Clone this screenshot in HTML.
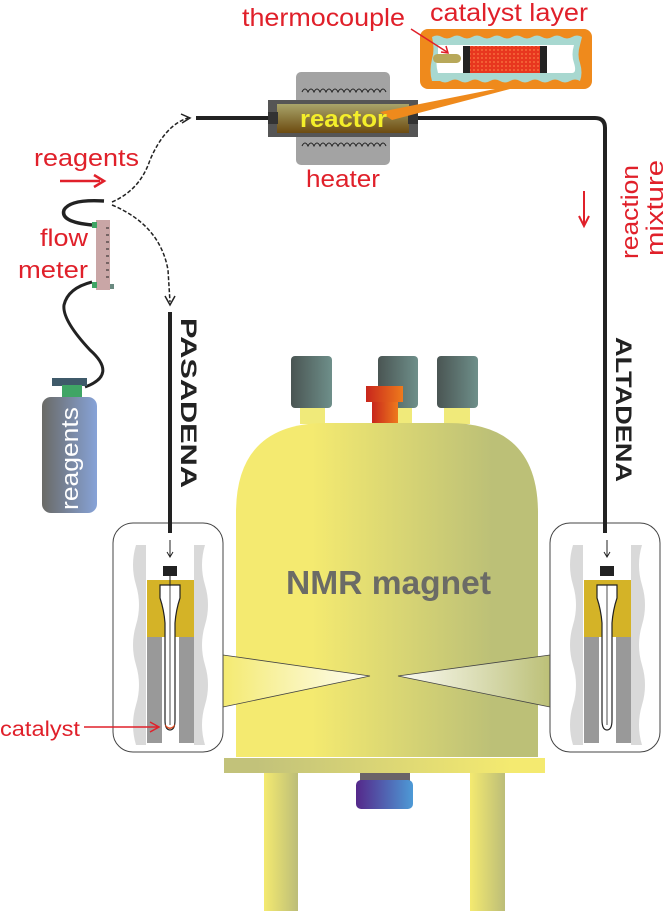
<!DOCTYPE html>
<html><head><meta charset="utf-8"><style>body{margin:0;background:#fff}svg{display:block}</style></head><body>
<svg width="667" height="911" viewBox="0 0 667 911" xmlns="http://www.w3.org/2000/svg" font-family="Liberation Sans, sans-serif">
<defs>
<linearGradient id="mag" x1="0" x2="1" y1="0" y2="0"><stop offset="0.25" stop-color="#f4ea70"/><stop offset="0.85" stop-color="#bcc077"/></linearGradient>
<linearGradient id="base" x1="0" x2="1"><stop offset="0.1" stop-color="#c2c27a"/><stop offset="0.9" stop-color="#f4ea70"/></linearGradient>
<linearGradient id="leg" x1="0" x2="1"><stop offset="0" stop-color="#f4ea70"/><stop offset="1" stop-color="#bcbd78"/></linearGradient>
<linearGradient id="cap" x1="0" x2="1"><stop offset="0" stop-color="#4a5553"/><stop offset="1" stop-color="#6e8f8a"/></linearGradient>
<linearGradient id="red" x1="0" x2="1"><stop offset="0" stop-color="#c8261c"/><stop offset="1" stop-color="#ee7a1c"/></linearGradient>
<linearGradient id="knob" x1="0" x2="1"><stop offset="0" stop-color="#55288a"/><stop offset="1" stop-color="#4d9ad6"/></linearGradient>
<linearGradient id="cyl" x1="0" x2="1"><stop offset="0" stop-color="#6a6a66"/><stop offset="1" stop-color="#87a3d8"/></linearGradient>
<linearGradient id="rx" x1="0" x2="0" y1="0" y2="1"><stop offset="0" stop-color="#a8a46a"/><stop offset="1" stop-color="#6d4b10"/></linearGradient>
<linearGradient id="beamL" x1="0" x2="1"><stop offset="0" stop-color="#f4ea70"/><stop offset="1" stop-color="#fff" stop-opacity="0.9"/></linearGradient>
<linearGradient id="beamR" x1="1" x2="0"><stop offset="0" stop-color="#bcc077"/><stop offset="1" stop-color="#fff" stop-opacity="0.9"/></linearGradient>
<pattern id="cat" width="4" height="4" patternUnits="userSpaceOnUse"><rect width="4" height="4" fill="#e8361f"/><circle cx="2" cy="2" r="1" fill="#f56a3a"/></pattern>
</defs>

<rect x="300" y="400" width="25" height="24" fill="#f0ea7a"/>
<rect x="390" y="400" width="22" height="24" fill="#f0ea7a"/>
<rect x="444" y="400" width="26" height="24" fill="#f0ea7a"/>
<rect x="291" y="356" width="41" height="52" rx="4" fill="url(#cap)"/>
<rect x="378" y="356" width="40" height="52" rx="4" fill="url(#cap)"/>
<rect x="437" y="356" width="41" height="52" rx="4" fill="url(#cap)"/>
<rect x="366" y="386" width="37" height="16" fill="url(#red)"/>
<rect x="372" y="402" width="26" height="22" fill="url(#red)"/>

<path d="M236,757 V513 Q236,423 326,423 H448 Q538,423 538,513 V757 Z" fill="url(#mag)"/>
<rect x="224" y="758" width="321" height="15" fill="url(#base)"/>
<rect x="264" y="773" width="34" height="138" fill="url(#leg)"/>
<rect x="470" y="773" width="35" height="138" fill="url(#leg)"/>
<rect x="360" y="773" width="50" height="9" fill="#6a6468"/>
<rect x="356" y="780" width="57" height="29" rx="5" fill="url(#knob)"/>
<text x="286" y="594" font-size="33" font-weight="bold" fill="#6b6b66" textLength="205" lengthAdjust="spacingAndGlyphs">NMR magnet</text>

<path d="M223,655 L370,676 L223,707 Z" fill="url(#beamL)"/>
<path d="M223,655 L370,676 L223,707" fill="none" stroke="#444" stroke-width="0.8"/>
<path d="M550,655 L398,676 L550,707 Z" fill="url(#beamR)"/>
<path d="M550,655 L398,676 L550,707" fill="none" stroke="#444" stroke-width="0.8"/>

<g>
<rect x="113" y="523" width="110" height="229" rx="20" fill="#fff" stroke="#444" stroke-width="1"/>
<path d="M136,545 q-6,20 0,40 q6,20 0,40 q-6,20 0,40 q6,20 0,40 q-6,20 0,40 V745 H146 V545 Z" fill="#d9d9d9"/>
<path d="M205,545 q-6,20 0,40 q6,20 0,40 q-6,20 0,40 q6,20 0,40 q-6,20 0,40 V745 H194 V545 Z" fill="#d9d9d9"/>
<path d="M147,580 H194 V637 H147 Z" fill="#d4b327"/>
<rect x="147" y="637" width="15" height="106" fill="#999"/>
<rect x="179" y="637" width="15" height="106" fill="#999"/>
<path d="M160,585 V598 q4,12 5,25 V720 q0,10 5,10 q5,0 5,-10 V623 q1,-13 5,-25 V585 Z" fill="#fff" stroke="#222" stroke-width="1.2"/>
<line x1="170" y1="585" x2="170" y2="725" stroke="#222" stroke-width="0.8"/>
<rect x="163" y="566" width="14" height="10" fill="#222"/>
<line x1="170" y1="576" x2="170" y2="586" stroke="#222" stroke-width="1"/>
</g>
<path d="M165,724 q5,7 10,0 q0,4 -5,5 q-5,-1 -5,-5Z" fill="#e24a1f"/>
<line x1="170" y1="312" x2="170" y2="533" stroke="#222" stroke-width="4"/>
<line x1="170" y1="540" x2="170" y2="556" stroke="#222" stroke-width="1"/>
<path d="M167,552 L170,557 L173,552" fill="none" stroke="#222" stroke-width="1"/>

<g transform="translate(437,0)">
<rect x="113" y="523" width="110" height="229" rx="20" fill="#fff" stroke="#444" stroke-width="1"/>
<path d="M136,545 q-6,20 0,40 q6,20 0,40 q-6,20 0,40 q6,20 0,40 q-6,20 0,40 V745 H146 V545 Z" fill="#d9d9d9"/>
<path d="M205,545 q-6,20 0,40 q6,20 0,40 q-6,20 0,40 q6,20 0,40 q-6,20 0,40 V745 H194 V545 Z" fill="#d9d9d9"/>
<path d="M147,580 H194 V637 H147 Z" fill="#d4b327"/>
<rect x="147" y="637" width="15" height="106" fill="#999"/>
<rect x="179" y="637" width="15" height="106" fill="#999"/>
<path d="M160,585 V598 q4,12 5,25 V720 q0,10 5,10 q5,0 5,-10 V623 q1,-13 5,-25 V585 Z" fill="#fff" stroke="#222" stroke-width="1.2"/>
<line x1="170" y1="585" x2="170" y2="725" stroke="#222" stroke-width="0.8"/>
<rect x="163" y="566" width="14" height="10" fill="#222"/>
<line x1="170" y1="540" x2="170" y2="556" stroke="#222" stroke-width="1"/>
<path d="M167,552 L170,557 L173,552" fill="none" stroke="#222" stroke-width="1"/>
</g>

<text x="0" y="736" font-size="21" fill="#e0202a" textLength="80" lengthAdjust="spacingAndGlyphs">catalyst</text>
<line x1="84" y1="727" x2="158" y2="727" stroke="#e0202a" stroke-width="1.5"/>
<path d="M150,722 L159,727 L150,732" fill="none" stroke="#e0202a" stroke-width="1.5"/>

<path d="M196,118 H268 M418,118 H595 Q605,118 605,128 V533" fill="none" stroke="#222" stroke-width="4"/>
<text transform="translate(181,318) rotate(90)" font-size="22" font-weight="bold" fill="#222" textLength="170" lengthAdjust="spacingAndGlyphs">PASADENA</text>
<text transform="translate(616,337) rotate(90)" font-size="22" font-weight="bold" fill="#222" textLength="145" lengthAdjust="spacingAndGlyphs">ALTADENA</text>

<rect x="296" y="72" width="94" height="93" rx="5" fill="#a3a3a3"/>
<path d="M302,92 q3,-6 6,0 q3,-6 6,0 q3,-6 6,0 q3,-6 6,0 q3,-6 6,0 q3,-6 6,0 q3,-6 6,0 q3,-6 6,0 q3,-6 6,0 q3,-6 6,0 q3,-6 6,0 q3,-6 6,0 q3,-6 6,0 q3,-6 6,0" fill="none" stroke="#222" stroke-width="1"/>
<path d="M302,146 q3,-6 6,0 q3,-6 6,0 q3,-6 6,0 q3,-6 6,0 q3,-6 6,0 q3,-6 6,0 q3,-6 6,0 q3,-6 6,0 q3,-6 6,0 q3,-6 6,0 q3,-6 6,0 q3,-6 6,0 q3,-6 6,0 q3,-6 6,0" fill="none" stroke="#222" stroke-width="1"/>
<rect x="268" y="100" width="150" height="37" fill="#555"/>
<rect x="277" y="104" width="132" height="29" fill="url(#rx)"/>
<rect x="268" y="112" width="10" height="12" fill="#333"/>
<rect x="408" y="112" width="10" height="12" fill="#333"/>
<path d="M380,112 L500,88 L510,89 L392,120 Z" fill="#ef8a1c"/>
<text x="300" y="127" font-size="24" font-weight="bold" fill="#f4ee2a" textLength="87" lengthAdjust="spacingAndGlyphs">reactor</text>
<text x="306" y="187" font-size="24" fill="#e0202a" textLength="74" lengthAdjust="spacingAndGlyphs">heater</text>

<rect x="420" y="29" width="172" height="60" rx="8" fill="#ef8a1c"/>
<path d="M432,37 q5,-3 10,0 q5,3 10,0 q5,-3 10,0 q5,3 10,0 q5,-3 10,0 q5,3 10,0 q5,-3 10,0 q5,3 10,0 q5,-3 10,0 q5,3 10,0 q5,-3 10,0 q5,3 10,0 q5,-3 10,0 q5,3 10,0 q5,-3 10,0 L580,45 q-3,10 0,18 q3,10 0,18 q-5,-3 -10,0 q-5,3 -10,0 q-5,-3 -10,0 q-5,3 -10,0 q-5,-3 -10,0 q-5,3 -10,0 q-5,-3 -10,0 q-5,3 -10,0 q-5,-3 -10,0 q-5,3 -10,0 q-5,-3 -10,0 q-5,3 -10,0 q-5,-3 -10,0 q-5,3 -10,0 L432,81 q-3,-10 0,-22 q3,-10 0,-22Z" fill="#a8d8d0"/>
<path d="M438,45 H574 q-3,10 0,18 q3,10 -2,10 H438 q-3,-10 0,-18Z" fill="#fff"/>
<rect x="463" y="46" width="84" height="27" fill="#222"/>
<rect x="470" y="46" width="70" height="27" fill="url(#cat)"/>
<rect x="433" y="54" width="28" height="9" rx="4.5" fill="#b8a85a"/>
<text x="242" y="26" font-size="25" fill="#e0202a" textLength="163" lengthAdjust="spacingAndGlyphs">thermocouple</text>
<text x="430" y="21" font-size="25" fill="#e0202a" textLength="158" lengthAdjust="spacingAndGlyphs">catalyst layer</text>
<path d="M411,29 L447,52" stroke="#e0202a" stroke-width="1.5"/>
<path d="M441,52 L448,53 L446,46" fill="none" stroke="#e0202a" stroke-width="1.5"/>

<line x1="584" y1="191" x2="584" y2="224" stroke="#e0202a" stroke-width="2"/>
<path d="M579,216 L584,226 L589,216" fill="none" stroke="#e0202a" stroke-width="2"/>
<text transform="translate(638,259) rotate(-90)" font-size="24" fill="#e0202a" textLength="94" lengthAdjust="spacingAndGlyphs">reaction</text>
<text transform="translate(663,256) rotate(-90)" font-size="24" fill="#e0202a" textLength="96" lengthAdjust="spacingAndGlyphs">mixture</text>

<text x="34" y="166" font-size="24" fill="#e0202a" textLength="105" lengthAdjust="spacingAndGlyphs">reagents</text>
<line x1="60" y1="181" x2="100" y2="181" stroke="#e0202a" stroke-width="2.5"/>
<path d="M94,175 L104,181 L94,187" fill="none" stroke="#e0202a" stroke-width="2.5"/>
<path d="M104,201 Q70,199 64,210 Q60,222 92,225" fill="none" stroke="#222" stroke-width="3.5"/>
<path d="M92,282 Q68,288 64,305 Q62,320 90,350 Q118,375 85,387" fill="none" stroke="#222" stroke-width="3"/>
<rect x="96" y="220" width="14" height="70" fill="#c9a6a6"/>
<rect x="92" y="222" width="5" height="6" fill="#3fa565"/>
<rect x="92" y="282" width="5" height="6" fill="#3fa565"/>
<rect x="110" y="284" width="4" height="5" fill="#6a8a80"/>
<path d="M106,228 h3 M106,235 h3 M106,242 h3 M106,249 h3 M106,256 h3 M106,263 h3 M106,270 h3 M106,277 h3" stroke="#222" stroke-width="1"/>
<text x="40" y="246" font-size="24" fill="#e0202a" textLength="48" lengthAdjust="spacingAndGlyphs">flow</text>
<text x="18" y="278" font-size="24" fill="#e0202a" textLength="70" lengthAdjust="spacingAndGlyphs">meter</text>

<path d="M112,202 Q140,190 150,160 Q165,125 188,118" fill="none" stroke="#222" stroke-width="1.5" stroke-dasharray="4,2"/>
<path d="M181,114 L190,118 L182,123" fill="none" stroke="#222" stroke-width="1.5"/>
<path d="M112,205 Q160,225 168,270 L170,302" fill="none" stroke="#222" stroke-width="1.5" stroke-dasharray="4,2"/>
<path d="M165,296 L170,305 L175,296" fill="none" stroke="#222" stroke-width="1.5"/>

<rect x="52" y="378" width="35" height="8" fill="#3f5a6a"/>
<rect x="62" y="385" width="20" height="12" fill="#3fa565"/>
<rect x="42" y="397" width="55" height="116" rx="9" fill="url(#cyl)"/>
<text transform="translate(78,510) rotate(-90)" font-size="24" fill="#fff" textLength="103" lengthAdjust="spacingAndGlyphs">reagents</text>
</svg>
</body></html>
